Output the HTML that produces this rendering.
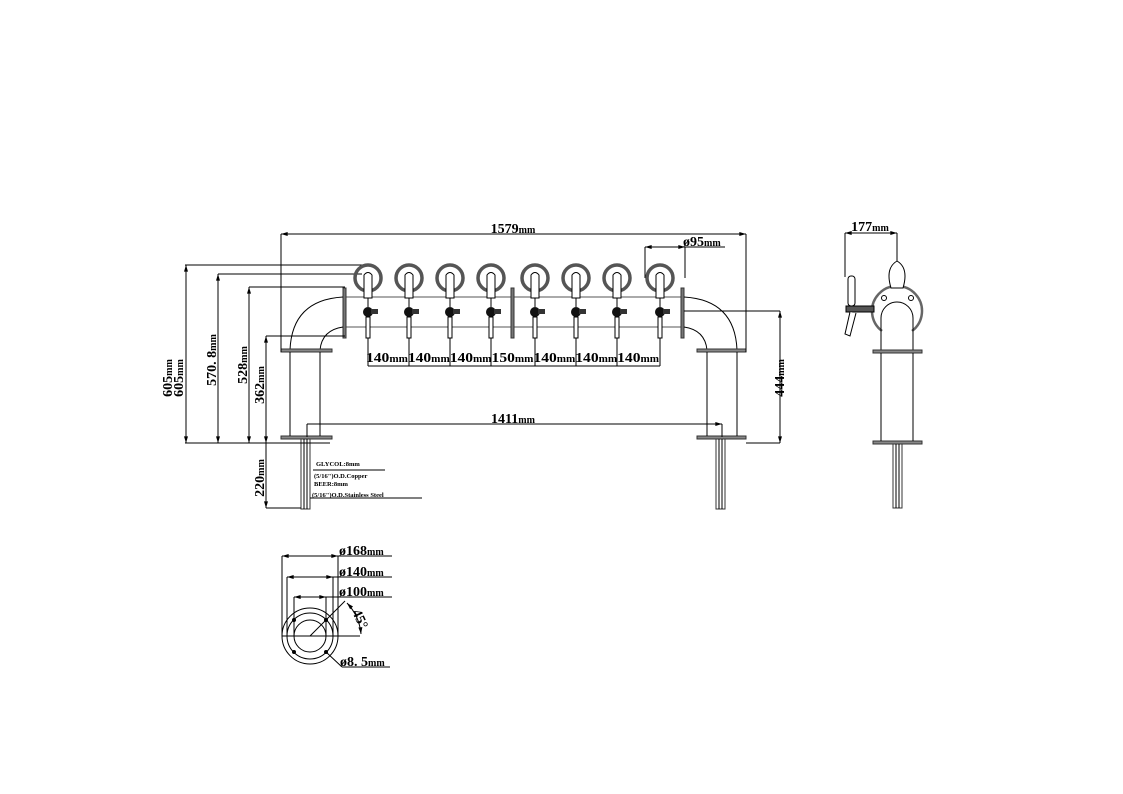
<!DOCTYPE html>
<html><head><meta charset="utf-8"><style>
html,body{margin:0;padding:0;background:#fff}
svg{display:block}
text{font-family:"Liberation Serif",serif;font-weight:bold;fill:#000}
</style></head><body>
<svg width="1123" height="794" viewBox="0 0 1123 794" xmlns="http://www.w3.org/2000/svg">
<defs>
<marker id="a" viewBox="0 0 10 6" refX="10" refY="3" markerWidth="8" markerHeight="4" orient="auto-start-reverse"><path d="M0,0L10,3L0,6z" fill="#000"/></marker>
<g id="tap">
<circle cx="0" cy="0" r="13" fill="none" stroke="#555" stroke-width="3.5"/>
<path d="M-4,20 L-4,-3 Q0,-8 4,-3 L4,20 Z" fill="#fff" stroke="#000" stroke-width="1"/>
<line x1="0" y1="20" x2="0" y2="29" stroke="#000" stroke-width="1"/>
<circle cx="0" cy="34" r="5" fill="#111"/>
<rect x="3" y="31" width="7" height="5" fill="#333"/>
<rect x="-2" y="39" width="4" height="21" fill="#fff" stroke="#000" stroke-width="1"/>
</g>
</defs>
<g fill="none" stroke="#000" stroke-width="1">
<line x1="345" y1="297" x2="682" y2="297" stroke="#555"/>
<line x1="345" y1="327" x2="682" y2="327" stroke="#555"/>
<rect x="343" y="288" width="3" height="50" fill="#777" stroke="#333"/>
<rect x="511" y="288" width="3" height="50" fill="#777" stroke="#333"/>
<rect x="681" y="288" width="3" height="50" fill="#777" stroke="#333"/>
<path d="M343,297 Q292,300 290,350"/>
<path d="M343,327 Q322,330 320,350"/>
<path d="M684,297 Q735,300 737,350"/>
<path d="M684,327 Q705,330 707,350"/>
<rect x="281" y="349" width="51" height="3" fill="#888" stroke="#333"/>
<rect x="697" y="349" width="49" height="3" fill="#888" stroke="#333"/>
<rect x="281" y="436" width="51" height="3" fill="#888" stroke="#333"/>
<rect x="697" y="436" width="49" height="3" fill="#888" stroke="#333"/>
<line x1="290" y1="352" x2="290" y2="436"/><line x1="320" y1="352" x2="320" y2="436"/>
<line x1="707" y1="352" x2="707" y2="436"/><line x1="737" y1="352" x2="737" y2="436"/>
<rect x="301" y="439" width="9" height="70" stroke="#333"/>
<line x1="304" y1="439" x2="304" y2="509"/><line x1="307" y1="439" x2="307" y2="509"/>
<rect x="716" y="439" width="9" height="70" stroke="#333"/>
<line x1="719" y1="439" x2="719" y2="509"/><line x1="722" y1="439" x2="722" y2="509"/>
<line x1="281" y1="234" x2="746" y2="234" marker-start="url(#a)" marker-end="url(#a)"/>
<line x1="281" y1="234" x2="281" y2="352"/><line x1="746" y1="234" x2="746" y2="352"/>
<line x1="645" y1="247" x2="685" y2="247" marker-start="url(#a)" marker-end="url(#a)"/>
<line x1="645" y1="247" x2="645" y2="278"/><line x1="685" y1="247" x2="685" y2="278"/>
<line x1="685" y1="247" x2="725" y2="247"/>
<line x1="368" y1="338" x2="368" y2="366"/><line x1="409" y1="338" x2="409" y2="366"/>
<line x1="450" y1="338" x2="450" y2="366"/><line x1="491" y1="338" x2="491" y2="366"/>
<line x1="535" y1="338" x2="535" y2="366"/><line x1="576" y1="338" x2="576" y2="366"/>
<line x1="617" y1="338" x2="617" y2="366"/><line x1="660" y1="338" x2="660" y2="366"/>
<line x1="368" y1="366" x2="660" y2="366"/>
<line x1="307" y1="424" x2="722" y2="424" marker-end="url(#a)"/>
<line x1="307" y1="424" x2="307" y2="437"/><line x1="722" y1="424" x2="722" y2="437"/>
<line x1="684" y1="311" x2="780" y2="311"/><line x1="746" y1="443" x2="780" y2="443"/>
<line x1="780" y1="311" x2="780" y2="443" marker-start="url(#a)" marker-end="url(#a)"/>
<line x1="185" y1="265" x2="368" y2="265"/>
<line x1="218" y1="274" x2="362" y2="274"/>
<line x1="249" y1="287" x2="345" y2="287"/>
<line x1="266" y1="336" x2="345" y2="336"/>
<line x1="185" y1="443" x2="330" y2="443"/>
<line x1="186" y1="265" x2="186" y2="443" marker-start="url(#a)" marker-end="url(#a)"/>
<line x1="218" y1="274" x2="218" y2="443" marker-start="url(#a)" marker-end="url(#a)"/>
<line x1="249" y1="287" x2="249" y2="443" marker-start="url(#a)" marker-end="url(#a)"/>
<line x1="266" y1="336" x2="266" y2="443" marker-start="url(#a)" marker-end="url(#a)"/>
<line x1="266" y1="443" x2="266" y2="508" marker-end="url(#a)"/>
<line x1="266" y1="508" x2="301" y2="508"/>
<line x1="313" y1="470" x2="385" y2="470"/><line x1="310" y1="498" x2="422" y2="498"/>
<!-- side view -->
<line x1="845" y1="233" x2="897" y2="233" marker-start="url(#a)" marker-end="url(#a)"/>
<line x1="845" y1="233" x2="845" y2="277"/><line x1="897" y1="233" x2="897" y2="262"/>
<path d="M882,331 A25,25 0 1 1 912,331" stroke-width="2.5" stroke="#666"/>
<path d="M881,350 L881,318 A16,16 0 0 1 913,318 L913,350"/>
<path d="M891,288 Q885,268 897,261 Q909,268 903,288 Z" fill="#fff"/>
<circle cx="884" cy="298" r="2.5"/><circle cx="911" cy="298" r="2.5"/>
<rect x="848" y="276" width="7" height="30" rx="3" fill="#fff"/>
<rect x="846" y="306" width="28" height="6" fill="#555"/>
<path d="M850,312 L845,334 L850,336 L856,313" fill="#fff"/>
<rect x="873" y="350" width="49" height="3" fill="#888" stroke="#333"/>
<rect x="873" y="441" width="49" height="3" fill="#888" stroke="#333"/>
<line x1="881" y1="353" x2="881" y2="441"/><line x1="913" y1="353" x2="913" y2="441"/>
<rect x="893" y="444" width="9" height="64" stroke="#333"/>
<line x1="896" y1="444" x2="896" y2="508"/><line x1="899" y1="444" x2="899" y2="508"/>
<!-- flange detail -->
<circle cx="310" cy="636" r="28"/>
<circle cx="310" cy="636" r="23"/>
<circle cx="310" cy="636" r="16"/>
<circle cx="294" cy="620" r="1.5" fill="#000"/><circle cx="326" cy="620" r="1.5" fill="#000"/>
<circle cx="294" cy="652" r="1.5" fill="#000"/><circle cx="326" cy="652" r="1.5" fill="#000"/>
<line x1="282" y1="556" x2="338" y2="556" marker-start="url(#a)" marker-end="url(#a)"/>
<line x1="338" y1="556" x2="392" y2="556"/>
<line x1="282" y1="556" x2="282" y2="636"/><line x1="338" y1="556" x2="338" y2="636"/>
<line x1="287" y1="577" x2="333" y2="577" marker-start="url(#a)" marker-end="url(#a)"/>
<line x1="333" y1="577" x2="392" y2="577"/>
<line x1="287" y1="577" x2="287" y2="636"/><line x1="333" y1="577" x2="333" y2="636"/>
<line x1="294" y1="597" x2="326" y2="597" marker-start="url(#a)" marker-end="url(#a)"/>
<line x1="326" y1="597" x2="392" y2="597"/>
<line x1="294" y1="597" x2="294" y2="636"/><line x1="326" y1="597" x2="326" y2="636"/>
<line x1="282" y1="636" x2="360" y2="636"/>
<line x1="310" y1="636" x2="345" y2="601"/>
<path d="M347,603 A52,52 0 0 1 361,634" marker-start="url(#a)" marker-end="url(#a)"/>
<line x1="326" y1="652" x2="342" y2="667"/><line x1="342" y1="667" x2="390" y2="667"/>
</g>
<use href="#tap" x="368" y="278"/><use href="#tap" x="409" y="278"/>
<use href="#tap" x="450" y="278"/><use href="#tap" x="491" y="278"/>
<use href="#tap" x="535" y="278"/><use href="#tap" x="576" y="278"/>
<use href="#tap" x="617" y="278"/><use href="#tap" x="660" y="278"/>
<g font-size="14">
<text x="513" y="233" text-anchor="middle">1579<tspan font-size="10">mm</tspan></text>
<text x="683" y="246">ø95<tspan font-size="10">mm</tspan></text>
<text x="513" y="423" text-anchor="middle">1411<tspan font-size="10">mm</tspan></text>
<text x="870" y="231" text-anchor="middle">177<tspan font-size="10">mm</tspan></text>
<text x="366" y="362" font-size="14" textLength="293" lengthAdjust="spacingAndGlyphs">140<tspan font-size="10">mm</tspan>140<tspan font-size="10">mm</tspan>140<tspan font-size="10">mm</tspan>150<tspan font-size="10">mm</tspan>140<tspan font-size="10">mm</tspan>140<tspan font-size="10">mm</tspan>140<tspan font-size="10">mm</tspan></text>
<text transform="translate(172,378) rotate(-90)" text-anchor="middle">605<tspan font-size="10">mm</tspan></text>
<text transform="translate(183,378) rotate(-90)" text-anchor="middle">605<tspan font-size="10">mm</tspan></text>
<text transform="translate(216,360) rotate(-90)" text-anchor="middle">570. 8<tspan font-size="10">mm</tspan></text>
<text transform="translate(247,365) rotate(-90)" text-anchor="middle">528<tspan font-size="10">mm</tspan></text>
<text transform="translate(264,385) rotate(-90)" text-anchor="middle">362<tspan font-size="10">mm</tspan></text>
<text transform="translate(264,478) rotate(-90)" text-anchor="middle">220<tspan font-size="10">mm</tspan></text>
<text transform="translate(784,378) rotate(-90)" text-anchor="middle">444<tspan font-size="10">mm</tspan></text>
<text x="339" y="555">ø168<tspan font-size="10">mm</tspan></text>
<text x="339" y="576">ø140<tspan font-size="10">mm</tspan></text>
<text x="339" y="596">ø100<tspan font-size="10">mm</tspan></text>
<text transform="translate(352,612) rotate(65)">45°</text>
<text x="340" y="666">ø8. 5<tspan font-size="10">mm</tspan></text>
</g>
<g font-size="6.5" font-family="Liberation Mono,monospace">
<text x="316" y="466">GLYCOL:8mm</text>
<text x="314" y="478">(5/16")O.D.Copper</text>
<text x="314" y="486">BEER:8mm</text>
<text x="312" y="497">(5/16")O.D.Stainless Steel</text>
</g>
</svg>
</body></html>
